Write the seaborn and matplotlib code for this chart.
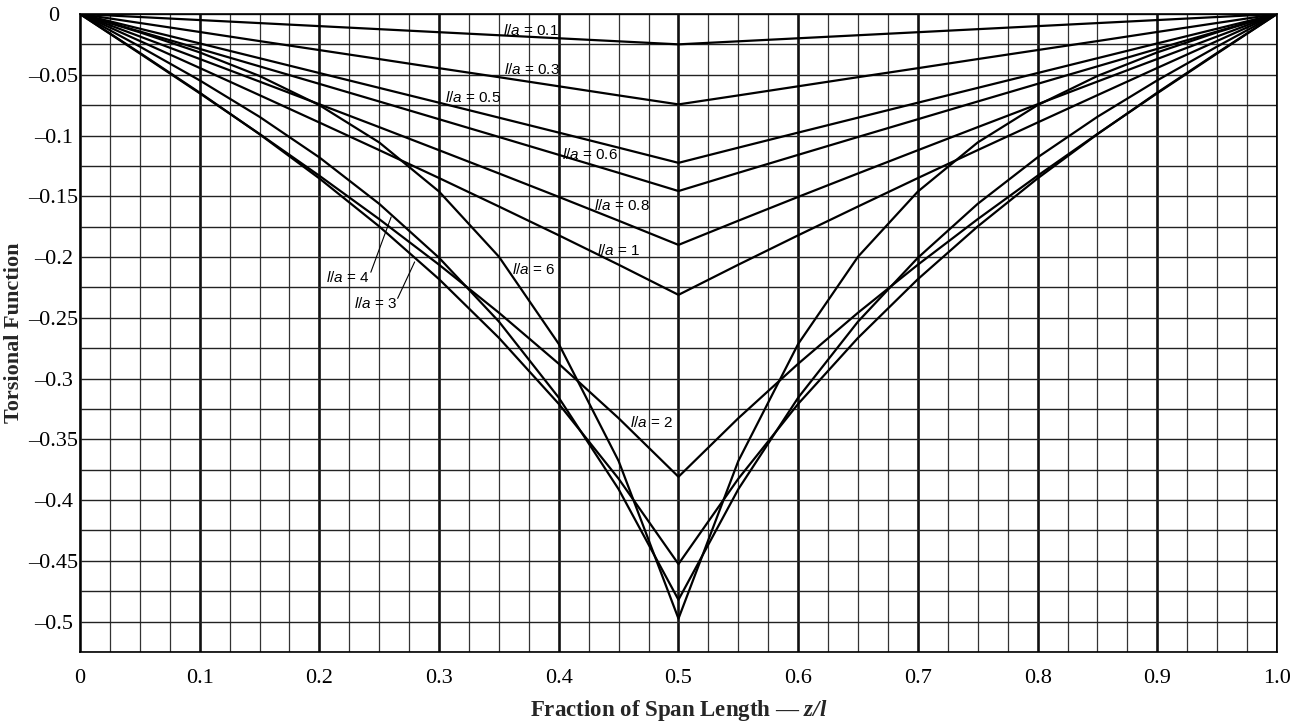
import matplotlib
matplotlib.use("Agg")
import numpy as np
import pandas as pd
import seaborn as sns
import matplotlib.pyplot as plt
from matplotlib.ticker import MultipleLocator

# span positions z/l
z = [0, 0.05, 0.1, 0.15, 0.2, 0.25, 0.3, 0.35, 0.4, 0.45, 0.5,
     0.55, 0.6, 0.65, 0.7, 0.75, 0.8, 0.85, 0.9, 0.95, 1.0]

# torsional function, one list per l/a
la_01 = [0, -0.0025, -0.0050, -0.0075, -0.0100, -0.0125, -0.0150, -0.0175, -0.0200, -0.0225, -0.0250,
         -0.0225, -0.0200, -0.0175, -0.0150, -0.0125, -0.0100, -0.0075, -0.0050, -0.0025, 0]
la_03 = [0, -0.0074, -0.0148, -0.0223, -0.0297, -0.0371, -0.0446, -0.0520, -0.0595, -0.0670, -0.0744,
         -0.0670, -0.0595, -0.0520, -0.0446, -0.0371, -0.0297, -0.0223, -0.0148, -0.0074, 0]
la_05 = [0, -0.0121, -0.0242, -0.0364, -0.0486, -0.0608, -0.0730, -0.0853, -0.0976, -0.1100, -0.1225,
         -0.1100, -0.0976, -0.0853, -0.0730, -0.0608, -0.0486, -0.0364, -0.0242, -0.0121, 0]
la_06 = [0, -0.0144, -0.0287, -0.0431, -0.0575, -0.0720, -0.0866, -0.1012, -0.1159, -0.1307, -0.1457,
         -0.1307, -0.1159, -0.1012, -0.0866, -0.0720, -0.0575, -0.0431, -0.0287, -0.0144, 0]
la_08 = [0, -0.0185, -0.0370, -0.0556, -0.0743, -0.0931, -0.1121, -0.1312, -0.1505, -0.1701, -0.1900,
         -0.1701, -0.1505, -0.1312, -0.1121, -0.0931, -0.0743, -0.0556, -0.0370, -0.0185, 0]
la_1 = [0, -0.0222, -0.0444, -0.0668, -0.0893, -0.1120, -0.1350, -0.1584, -0.1821, -0.2063, -0.2311,
        -0.2063, -0.1821, -0.1584, -0.1350, -0.1120, -0.0893, -0.0668, -0.0444, -0.0222, 0]
la_2 = [0, -0.0325, -0.0652, -0.0987, -0.1331, -0.1688, -0.2063, -0.2458, -0.2878, -0.3326, -0.3808,
        -0.3326, -0.2878, -0.2458, -0.2063, -0.1688, -0.1331, -0.0987, -0.0652, -0.0325, 0]
la_3 = [0, -0.0320, -0.0647, -0.0989, -0.1353, -0.1748, -0.2182, -0.2665, -0.3208, -0.3824, -0.4526,
        -0.3824, -0.3208, -0.2665, -0.2182, -0.1748, -0.1353, -0.0989, -0.0647, -0.0320, 0]
la_4 = [0, -0.0268, -0.0546, -0.0846, -0.1180, -0.1562, -0.2006, -0.2531, -0.3157, -0.3910, -0.4820,
        -0.3910, -0.3157, -0.2531, -0.2006, -0.1562, -0.1180, -0.0846, -0.0546, -0.0268, 0]
la_6 = [0, -0.0151, -0.0316, -0.0510, -0.0750, -0.1057, -0.1461, -0.1997, -0.2715, -0.3678, -0.4975,
        -0.3678, -0.2715, -0.1997, -0.1461, -0.1057, -0.0750, -0.0510, -0.0316, -0.0151, 0]

curve_names = ["0.1", "0.3", "0.5", "0.6", "0.8", "1", "2", "3", "4", "6"]
curve_values = [la_01, la_03, la_05, la_06, la_08, la_1, la_2, la_3, la_4, la_6]

x_ticks = [0, 0.1, 0.2, 0.3, 0.4, 0.5, 0.6, 0.7, 0.8, 0.9, 1.0]
x_tick_labels = ["0", "0.1", "0.2", "0.3", "0.4", "0.5", "0.6", "0.7", "0.8", "0.9", "1.0"]
y_ticks = [0, -0.05, -0.1, -0.15, -0.2, -0.25, -0.3, -0.35, -0.4, -0.45, -0.5]
y_tick_labels = ["0", "\u20130.05", "\u20130.1", "\u20130.15", "\u20130.2", "\u20130.25",
                 "\u20130.3", "\u20130.35", "\u20130.4", "\u20130.45", "\u20130.5"]

df = pd.concat(
    [pd.DataFrame({"z": z, "f": v, "la": n}) for n, v in zip(curve_names, curve_values)],
    ignore_index=True,
)

sns.set_theme(style="white")
plt.rcParams["font.family"] = ["Liberation Serif", "DejaVu Serif"]
plt.rcParams["mathtext.fontset"] = "custom"
plt.rcParams["mathtext.rm"] = "Liberation Sans"
plt.rcParams["mathtext.it"] = "Liberation Sans:italic"
plt.rcParams["mathtext.bfit"] = "Liberation Serif:italic:bold"

fig = plt.figure(figsize=(13, 7.24), dpi=100)
ax = fig.add_axes([0.0615, 0.0994, 0.9208, 0.8813])

sns.lineplot(data=df, x="z", y="f", hue="la", palette={n: "black" for n in curve_names},
             estimator=None, sort=False, legend=False, lw=1.6, ax=ax)

ax.set_xlim(0, 1.0)
ax.set_ylim(-0.525, 0)
ax.set_xticks(x_ticks)
ax.set_xticklabels(x_tick_labels)
ax.set_yticks(y_ticks)
ax.set_yticklabels(y_tick_labels)
ax.xaxis.set_minor_locator(MultipleLocator(0.025))
ax.yaxis.set_minor_locator(MultipleLocator(0.025))

ax.grid(which="major", axis="x", color="#111111", lw=1.9)
ax.grid(which="minor", axis="x", color="#333333", lw=0.9)
ax.grid(which="both", axis="y", color="#222222", lw=1.0)
ax.set_axisbelow(True)

for s in ax.spines.values():
    s.set_color("black")
    s.set_linewidth(1.2)

ax.tick_params(which="both", length=0, labelsize=16, colors="black")
ax.tick_params(axis="x", pad=12)
ax.tick_params(axis="y", pad=19)
for lbl in ax.get_yticklabels():
    lbl.set_horizontalalignment("center")

ax.set_xlabel("Fraction of Span Length \u2014 $\\mathbfit{z/l}$", fontsize=16.5, fontweight="bold")
ax.set_ylabel("Torsional Function", fontsize=16, fontweight="bold")
ax.xaxis.set_label_coords(0.5, -0.072)
ax.yaxis.set_label_coords(-0.047, 0.5)

# curve labels
label_pos = {
    "0.1": (0.377, -0.0132), "0.3": (0.378, -0.046), "0.5": (0.328, -0.069),
    "0.6": (0.4265, -0.1153), "0.8": (0.4525, -0.158), "1": (0.450, -0.195),
    "6": (0.379, -0.210), "4": (0.2237, -0.2166), "3": (0.247, -0.238),
    "2": (0.4775, -0.336),
}
for n in curve_names:
    x0, y0 = label_pos[n]
    ax.text(x0, y0, "$l/a$ = " + n, family="Liberation Sans", fontsize=11,
            ha="center", va="center", color="black")

ax.annotate("", xy=(0.260, -0.167), xytext=(0.243, -0.2125),
            arrowprops=dict(arrowstyle="-", lw=0.8, color="black", shrinkA=0, shrinkB=0))
ax.annotate("", xy=(0.2796, -0.204), xytext=(0.2654, -0.234),
            arrowprops=dict(arrowstyle="-", lw=0.8, color="black", shrinkA=0, shrinkB=0))

fig.savefig("out.png", dpi=100)
